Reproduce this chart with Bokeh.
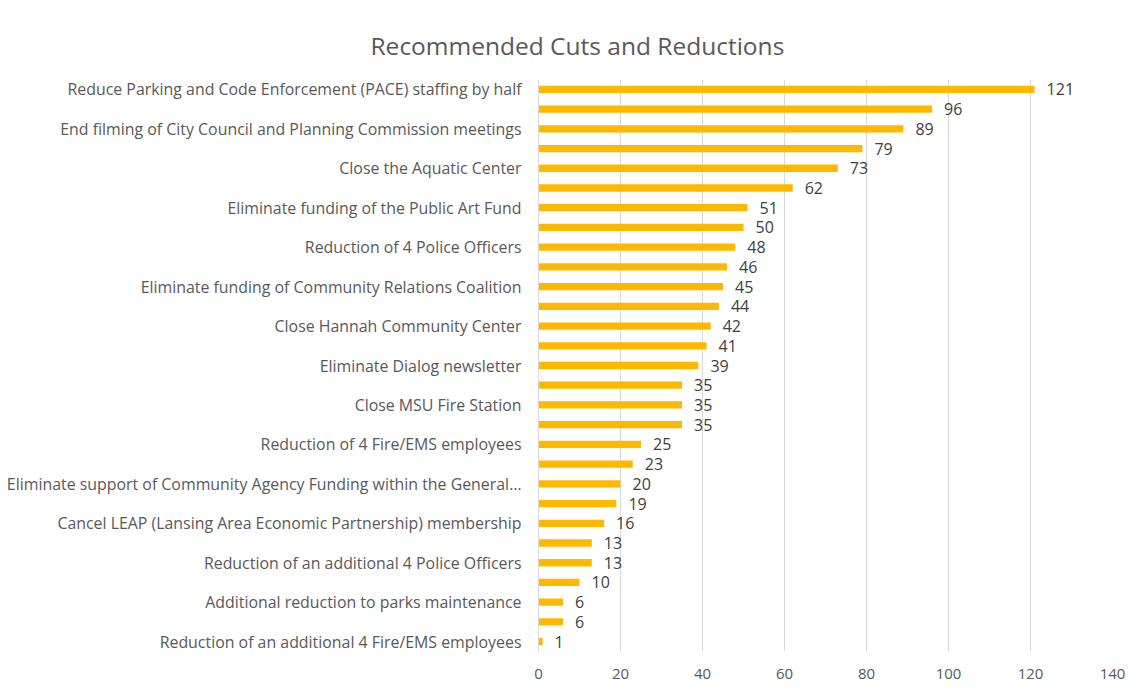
from bokeh.plotting import figure
from bokeh.models import Range1d, FixedTicker, ColumnDataSource, Title
from bokeh.core.properties import value
from bokeh.embed import file_html
from bokeh.resources import INLINE

labels = [
    "Reduce Parking and Code Enforcement (PACE) staffing by half", "",
    "End filming of City Council and Planning Commission meetings", "",
    "Close the Aquatic Center", "",
    "Eliminate funding of the Public Art Fund", "",
    "Reduction of 4 Police Officers", "",
    "Eliminate funding of Community Relations Coalition", "",
    "Close Hannah Community Center", "",
    "Eliminate Dialog newsletter", "",
    "Close MSU Fire Station", "",
    "Reduction of 4 Fire/EMS employees", "",
    "Eliminate support of Community Agency Funding within the General\u2026", "",
    "Cancel LEAP (Lansing Area Economic Partnership) membership", "",
    "Reduction of an additional 4 Police Officers", "",
    "Additional reduction to parks maintenance", "",
    "Reduction of an additional 4 Fire/EMS employees",
]
values = [121, 96, 89, 79, 73, 62, 51, 50, 48, 46, 45, 44, 42, 41, 39,
          35, 35, 35, 25, 23, 20, 19, 16, 13, 13, 10, 6, 6, 1]
x_ticks = [0, 20, 40, 60, 80, 100, 120, 140]
title_text = "Recommended Cuts and Reductions"

FONT = "Open Sans"
GRAY = "#595959"

pos = list(range(len(values)))
src = ColumnDataSource(dict(y=pos, v=values, t=[str(v) for v in values]))

p = figure(width=1128, height=686, output_backend="svg", toolbar_location=None,
           x_range=Range1d(0, 140), y_range=Range1d(len(values) - 0.5, -0.5),
           min_border_left=538, min_border_right=16, min_border_top=79,
           min_border_bottom=35)
p.outline_line_color = None
p.title = Title(text=title_text, align="left", offset=-168,
                text_font=FONT, text_font_size="24.5px",
                text_font_style="normal", text_color=GRAY, standoff=36)

p.hbar(y="y", right="v", left=0, height=0.37, source=src,
       fill_color="#FFB800", line_color=None)
p.text(x="v", y="y", text="t", source=src, x_offset=12,
       text_baseline="middle", text_align="left",
       text_font=value(FONT), text_font_size="16px", text_color="#404040")

# x axis
p.xaxis.ticker = FixedTicker(ticks=x_ticks)
p.xaxis.axis_line_color = None
p.xaxis.major_tick_line_color = None
p.xaxis.minor_tick_line_color = None
p.xaxis.major_label_text_font = FONT
p.xaxis.major_label_text_font_size = "15px"
p.xaxis.major_label_text_color = GRAY
p.xaxis.major_label_standoff = 11

# y axis
lab_pos = [i for i, s in enumerate(labels) if s]
p.yaxis.ticker = FixedTicker(ticks=lab_pos)
p.yaxis.major_label_overrides = {i: labels[i] for i in lab_pos}
p.yaxis.axis_line_color = "#D9D9D9"
p.yaxis.major_tick_line_color = None
p.yaxis.minor_tick_line_color = None
p.yaxis.major_label_text_font = FONT
p.yaxis.major_label_text_font_size = "15.9px"
p.yaxis.major_label_text_color = GRAY
p.yaxis.major_label_standoff = 11

p.xgrid.grid_line_color = "#D9D9D9"
p.ygrid.grid_line_color = None

open("out.html", "w").write(file_html(p, INLINE))
